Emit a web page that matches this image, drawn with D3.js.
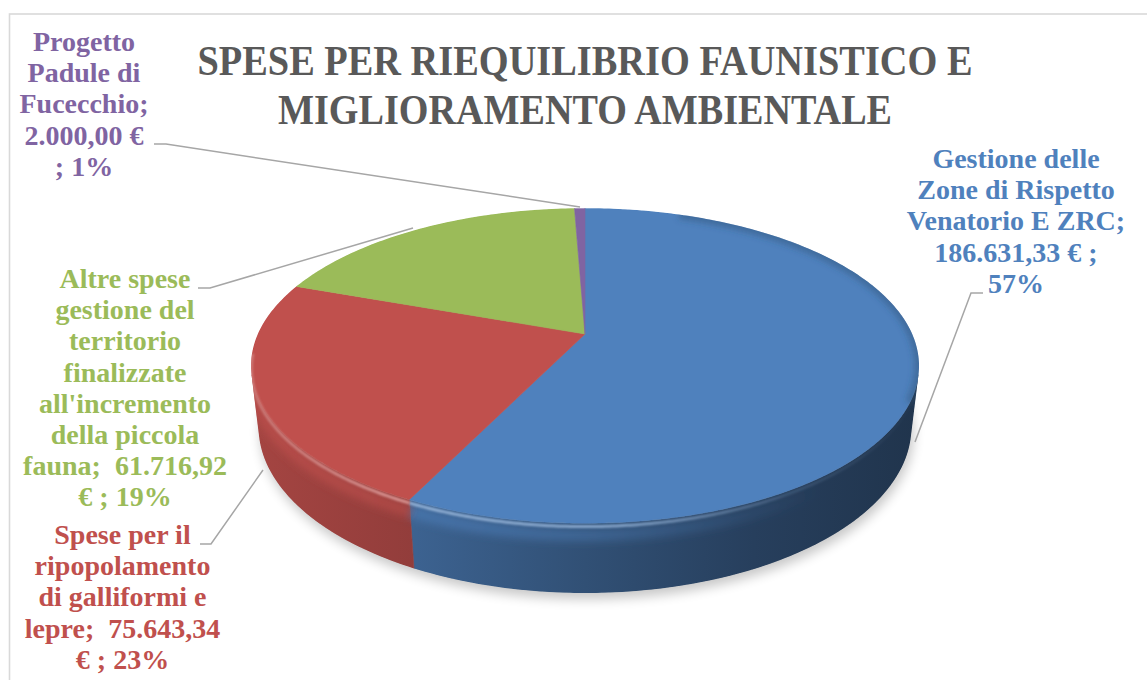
<!DOCTYPE html>
<html>
<head>
<meta charset="utf-8">
<script src="https://cdn.jsdelivr.net/npm/d3@7"></script>
<style>
  html, body { margin: 0; padding: 0; background: #ffffff; }
  svg { display: block; }
</style>
</head>
<body>
<svg id="chart" width="1147" height="680"></svg>
<script>
// ---------------- DATA ----------------
const categories = [
  "Gestione delle Zone di Rispetto Venatorio E ZRC",
  "Spese per il ripopolamento di galliformi e lepre",
  "Altre spese gestione del territorio finalizzate all'incremento della piccola fauna",
  "Progetto Padule di Fucecchio"
];
const values = [186631.33, 75643.34, 61716.92, 2000.00];
const valueLabels = ["186.631,33 €", "75.643,34 €", "61.716,92 €", "2.000,00 €"];
const percentLabels = ["57%", "23%", "19%", "1%"];
const labelLines = [
  ["Gestione delle", "Zone di Rispetto", "Venatorio E ZRC;", "186.631,33 € ;", "57%"],
  ["Spese per il", "ripopolamento", "di galliformi e", "lepre;  75.643,34", "€ ; 23%"],
  ["Altre spese", "gestione del", "territorio", "finalizzate", "all'incremento", "della piccola", "fauna;  61.716,92", "€ ; 19%"],
  ["Progetto", "Padule di", "Fucecchio;", "2.000,00 €", "; 1%"]
];
const titleLines = ["SPESE PER RIEQUILIBRIO FAUNISTICO E", "MIGLIORAMENTO AMBIENTALE"];

// ---------------- STYLE / LAYOUT ----------------
const colors = ["#4f81bd", "#c0504d", "#9bbb59", "#8064a2"];
const textColors = ["#4f81bd", "#c0504d", "#9bbb59", "#8064a2"];

const svg = d3.select("#chart");
const defs = svg.append("defs");

// border
svg.append("rect")
  .attr("x", 9.5).attr("y", 14).attr("width", 1200).attr("height", 720)
  .attr("fill", "none").attr("stroke", "#d9d9d9").attr("stroke-width", 1.6);

// perspective projection of a disc
const CX = 585, CY = 334, F = 1443, DIST = 4.41;
const sinA = 0.462, cosA = Math.sqrt(1 - sinA * sinA);
const H = 0.212;
function proj(r, theta, z) {
  const u = r * Math.sin(theta), v = r * Math.cos(theta);
  const depth = DIST + v * cosA - z * sinA;
  return [CX + F * u / depth, CY - F * (v * sinA + z * cosA) / depth];
}
function arcPts(a, b, z, n) {
  const pts = [];
  const steps = Math.max(2, Math.ceil(Math.abs(b - a) / (Math.PI / 180) * (n || 2)));
  for (let i = 0; i <= steps; i++) pts.push(proj(1, a + (b - a) * i / steps, z));
  return pts;
}
const line = d3.line();

const pie = d3.pie().sort(null).startAngle(0).endAngle(2 * Math.PI);
const arcs = pie(values);

// visible wall range
const tV = Math.acos(-1 / (DIST * cosA));
const visA = tV, visB = 2 * Math.PI - tV;

// filters
function addBlur(id, sd) {
  const f = defs.append("filter").attr("id", id)
    .attr("x", "-20%").attr("y", "-20%").attr("width", "140%").attr("height", "140%");
  f.append("feGaussianBlur").attr("stdDeviation", sd);
}
addBlur("shadowBlur", 6);
addBlur("rimBlur", 1.1);
addBlur("edgeBlur", 3);
addBlur("bandBlur", 4);

// shadow under pie
const bottomFull = arcPts(0, 2 * Math.PI, -H, 1);
svg.append("path")
  .attr("d", line(bottomFull) + "Z")
  .attr("transform", "translate(2,6)")
  .attr("fill", "#000").attr("opacity", 0.22)
  .attr("filter", "url(#shadowBlur)");

// clip to whole pie silhouette
const topFull = arcPts(0, 2 * Math.PI, 0, 1);
defs.append("clipPath").attr("id", "pieClip")
  .append("path").attr("d", line(topFull) + "Z" + line(arcPts(visA, visB, 0, 1).concat(arcPts(visB, visA, -H, 1))) + "Z");

function scaleCol(c, k) {
  const r = d3.rgb(c);
  return d3.rgb(r.r * k, r.g * k, r.b * k).formatHex();
}
const wallStops = [[0, 0.86], [0.25, 0.76], [0.5, 0.62], [0.75, 0.49], [1, 0.4]];
colors.forEach((c, i) => {
  const g = defs.append("linearGradient").attr("id", "wall" + i)
    .attr("gradientUnits", "userSpaceOnUse")
    .attr("x1", CX - 337).attr("x2", CX + 337).attr("y1", 0).attr("y2", 0);
  wallStops.forEach(s => g.append("stop").attr("offset", s[0]).attr("stop-color", scaleCol(c, s[1])));
  const rg = defs.append("linearGradient").attr("id", "rim" + i)
    .attr("gradientUnits", "userSpaceOnUse")
    .attr("x1", CX - 337).attr("x2", CX + 337).attr("y1", 0).attr("y2", 0);
  const bright = d3.interpolateRgb(c, "#ffffff")(0.38);
  rg.append("stop").attr("offset", 0).attr("stop-color", bright).attr("stop-opacity", 0.6);
  rg.append("stop").attr("offset", 0.22).attr("stop-color", bright).attr("stop-opacity", 1);
  rg.append("stop").attr("offset", 0.55).attr("stop-color", bright).attr("stop-opacity", 0.85);
  rg.append("stop").attr("offset", 0.8).attr("stop-color", bright).attr("stop-opacity", 0.2);
  rg.append("stop").attr("offset", 1).attr("stop-color", bright).attr("stop-opacity", 0);
  const bg = defs.append("linearGradient").attr("id", "band" + i)
    .attr("gradientUnits", "userSpaceOnUse")
    .attr("x1", CX - 337).attr("x2", CX + 337).attr("y1", 0).attr("y2", 0);
  bg.append("stop").attr("offset", 0).attr("stop-color", c).attr("stop-opacity", 0.7);
  bg.append("stop").attr("offset", 0.5).attr("stop-color", c).attr("stop-opacity", 0.45);
  bg.append("stop").attr("offset", 0.85).attr("stop-color", c).attr("stop-opacity", 0);
});

const pieG = svg.append("g").attr("clip-path", "url(#pieClip)");

// walls
arcs.forEach((d, i) => {
  const a = Math.max(d.startAngle, visA), b = Math.min(d.endAngle, visB);
  if (b <= a) return;
  const pts = arcPts(a, b, 0, 2).concat(arcPts(b, a, -H, 2));
  pieG.append("path")
    .attr("d", line(pts) + "Z")
    .attr("fill", "url(#wall" + i + ")")
    .attr("stroke", "url(#wall" + i + ")").attr("stroke-width", 0.6);
});

// lighter band at the upper part of the wall (bevel)
arcs.forEach((d, i) => {
  const a = Math.max(d.startAngle, visA), b = Math.min(d.endAngle, visB);
  if (b <= a) return;
  pieG.append("path")
    .attr("d", line(arcPts(a, b, -0.035, 2)))
    .attr("fill", "none")
    .attr("stroke", "url(#band" + i + ")")
    .attr("stroke-width", 12).attr("filter", "url(#bandBlur)");
});

// top faces
arcs.forEach((d, i) => {
  const pts = [proj(0, 0, 0)].concat(arcPts(d.startAngle, d.endAngle, 0, 2));
  pieG.append("path")
    .attr("d", line(pts) + "Z")
    .attr("fill", colors[i])
    .attr("stroke", colors[i]).attr("stroke-width", 0.6);
});

// darker bevel at right side of top face
arcs.forEach((d, i) => {
  const a = Math.max(d.startAngle, 0.35), b = Math.min(d.endAngle, 2.0);
  if (b <= a) return;
  pieG.append("path")
    .attr("d", line(arcPts(a, b, 0, 2)))
    .attr("fill", "none")
    .attr("stroke", scaleCol(colors[i], 0.6)).attr("stroke-opacity", 0.45)
    .attr("stroke-width", 9).attr("filter", "url(#edgeBlur)");
});

// rim highlights
arcs.forEach((d, i) => {
  const a = Math.max(d.startAngle, visA - 0.15), b = Math.min(d.endAngle, visB + 0.15);
  if (b <= a) return;
  pieG.append("path")
    .attr("d", line(arcPts(a, b, -0.01, 2)))
    .attr("fill", "none")
    .attr("stroke", "url(#rim" + i + ")")
    .attr("stroke-width", 3).attr("filter", "url(#rimBlur)");
});

// title
const title = svg.append("g").attr("font-family", "'Liberation Serif', 'Times New Roman', serif")
  .attr("font-weight", "bold").attr("font-size", 42).attr("fill", "#595959")
  .attr("text-anchor", "middle");
const titleLens = [775, 614];
const titleBase = [75, 124];
titleLines.forEach((t, i) => {
  title.append("text")
    .attr("x", 585).attr("y", titleBase[i])
    .attr("textLength", titleLens[i]).attr("lengthAdjust", "spacingAndGlyphs")
    .text(t);
});

// leader lines
const leaders = [
  [[983, 293], [971, 293], [915, 442]],
  [[200, 544], [211, 544], [263, 470]],
  [[198, 288], [210, 288], [413, 228]],
  [[154, 144], [166, 144], [580, 207]]
];
leaders.forEach(pts => {
  svg.append("path").attr("d", line(pts))
    .attr("fill", "none").attr("stroke", "#a6a6a6").attr("stroke-width", 1.5);
});

// data labels
const labelPos = [
  { x: 1016, y: 168 },
  { x: 122.5, y: 544 },
  { x: 125, y: 288 },
  { x: 84, y: 51 }
];
const lineH = 31.2;
labelLines.forEach((ls, i) => {
  const t = svg.append("text")
    .attr("font-family", "'Liberation Serif', 'Times New Roman', serif")
    .attr("font-weight", "bold").attr("font-size", 28)
    .attr("fill", textColors[i]).attr("text-anchor", "middle")
    .attr("xml:space", "preserve");
  ls.forEach((s, j) => {
    t.append("tspan").attr("x", labelPos[i].x).attr("y", labelPos[i].y + j * lineH).text(s);
  });
});
</script>
</body>
</html>
